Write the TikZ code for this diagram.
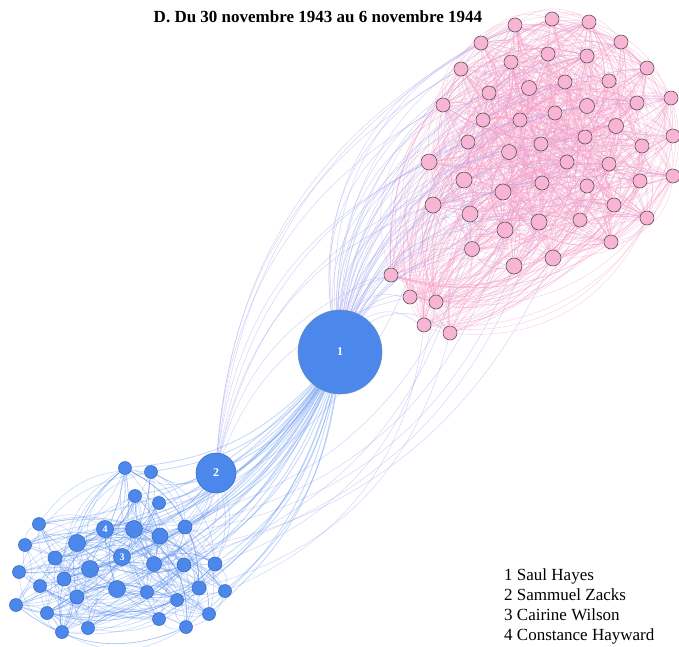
\documentclass[tikz,border=0pt]{standalone}
\usepackage{fontspec}
\setmainfont{Liberation Serif}
\usetikzlibrary{backgrounds}

\definecolor{nodeblue}{RGB}{76,136,235}
\definecolor{blueline}{RGB}{60,108,196}
\definecolor{nodepink}{RGB}{248,180,212}
\definecolor{pinkline}{RGB}{95,80,88}
\definecolor{edgepink}{RGB}{244,160,200}
\definecolor{edgelav}{RGB}{160,160,238}
\definecolor{edgeblue}{RGB}{78,134,236}

\tikzset{
  pnode/.style={circle, draw=pinkline, fill=nodepink, line width=0.6pt, inner sep=0pt},
  bnode/.style={circle, draw=blueline, fill=nodeblue, line width=0.6pt, inner sep=0pt,
    text=white, font=\bfseries\fontsize{10}{10}\selectfont},
  pinkedge/.style={draw=edgepink, opacity=0.42, line width=0.55pt},
  lavedge/.style={draw=edgelav, opacity=0.45, line width=0.5pt},
  blueedge/.style={draw=edgeblue, opacity=0.32, line width=0.6pt}
}

\begin{document}
\begin{tikzpicture}[x=1pt, y=-1pt, inner sep=0pt]
  \useasboundingbox (0,0) rectangle (679,646);
  \node (title) at (318,17) {\bfseries\fontsize{17}{20}\selectfont D. Du 30 novembre 1943 au 6 novembre 1944};
  \node[anchor=west, align=left, font=\fontsize{17}{20}\selectfont] (legend) at (504,606)
    {1 Saul Hayes\\2 Sammuel Zacks\\3 Cairine Wilson\\4 Constance Hayward};

  \foreach \x/\y/\r [count=\i] in {
      515/25/7, 552/19/7, 589/22/7, 481/43/7, 621/42/7, 548/54/7, 587/56/7, 511/62/7,
      461/69/7, 647/68/7, 565/82/7, 609/81/7, 529/88/7.5, 489/93/7, 443/105/7, 671/98/7,
      587/106/7.5, 637/103/7, 555/113/7, 520/120/7, 483/120/7, 616/126/7.5, 673/136/7, 585/137/7,
      642/146/7, 541/144/7, 468/142/7, 509/152/7.5, 429/162/8, 567/162/7, 609/164/7, 673/176/7,
      640/181/7, 587/186/7, 542/183/7, 464/180/8, 503/192/8, 433/205/8, 614/205/7, 470/214/8,
      539/222/8, 580/220/7, 647/218/7, 505/230/8, 611/242/7, 472/249/7.5, 553/258/8, 514/266/8,
      391/275/7, 410/297/7, 436/302/7, 424/325/7, 450/333/7}
    \node[pnode, minimum size=2*\r] (p\i) at (\x,\y) {};

  \foreach \x/\y/\r/\t [count=\i] in {
      125/468/6.5/, 151/472/6.5/, 135/496/6.5/, 159/503/6.5/, 39/524/6.5/, 105/529/8.5/4,
      134/529/8.5/, 185/527/7/, 160/536/8/, 25/545/6.5/, 77/543/8.5/, 55/558/7/,
      122/557/8.5/3, 19/572/6.5/, 90/569/8.5/, 154/564/7.5/, 184/565/7/, 215/564/7/,
      40/586/6.5/, 64/579/7/, 117/589/8.5/, 147/592/6.5/, 199/588/7/, 225/591/6.5/,
      77/597/7/, 177/600/6.5/, 16/605/6.5/, 47/613/6.5/, 209/614/6.5/, 159/619/6.5/,
      186/627/6.5/, 62/632/6.5/, 88/628/6.5/}
    \node[bnode, minimum size=2*\r] (b\i) at (\x,\y) {\t};

  \node[bnode, minimum size=40, font=\bfseries\fontsize{12}{12}\selectfont] (n2) at (216,473) {2};
  \node[bnode, minimum size=84, font=\bfseries\fontsize{12}{12}\selectfont,
    draw={rgb,255:red,110;green,140;blue,190}] (n1) at (340,352) {1};

  \begin{pgfonlayer}{background}
    \pgfmathsetseed{1944}
    \foreach \k in {1,...,1000}{
      \pgfmathrandominteger{\a}{1}{53}
      \pgfmathrandominteger{\d}{1}{52}
      \pgfmathtruncatemacro{\b}{mod(\a-1+\d,53)+1}
      \draw[pinkedge] (p\a) to[bend left=35] (p\b);
    }
    \foreach \k in {1,...,260}{
      \pgfmathrandominteger{\a}{1}{33}
      \pgfmathrandominteger{\d}{1}{32}
      \pgfmathtruncatemacro{\b}{mod(\a-1+\d,33)+1}
      \draw[blueedge] (b\a) to[bend left=30] (b\b);
    }
    \foreach \i in {1,...,53}
      \draw[lavedge] (n1) to[bend left=35] (p\i);
    \foreach \i in {1,4,9,15,29,38,49,50,36,27}
      \draw[lavedge] (n2) to[bend left=28] (p\i);
    \foreach \i/\j in {38/6,46/7,48/9,47/13,44/8,41/16,40/17,51/18,53/23,52/24}
      \draw[lavedge] (p\i) to[bend left=30] (b\j);
    \foreach \i in {1,...,33}
      \draw[blueedge, line width=0.9pt] (n1) to[bend left=20] (b\i);
    \foreach \i in {1,2,3,4,6,7,8,9,11,13,15,16,17,18,21,23}
      \draw[blueedge] (n2) to[bend left=25] (b\i);
    \draw[blueedge, line width=1pt] (n1) to[bend left=15] (n2);
  \end{pgfonlayer}
\end{tikzpicture}
\end{document}
